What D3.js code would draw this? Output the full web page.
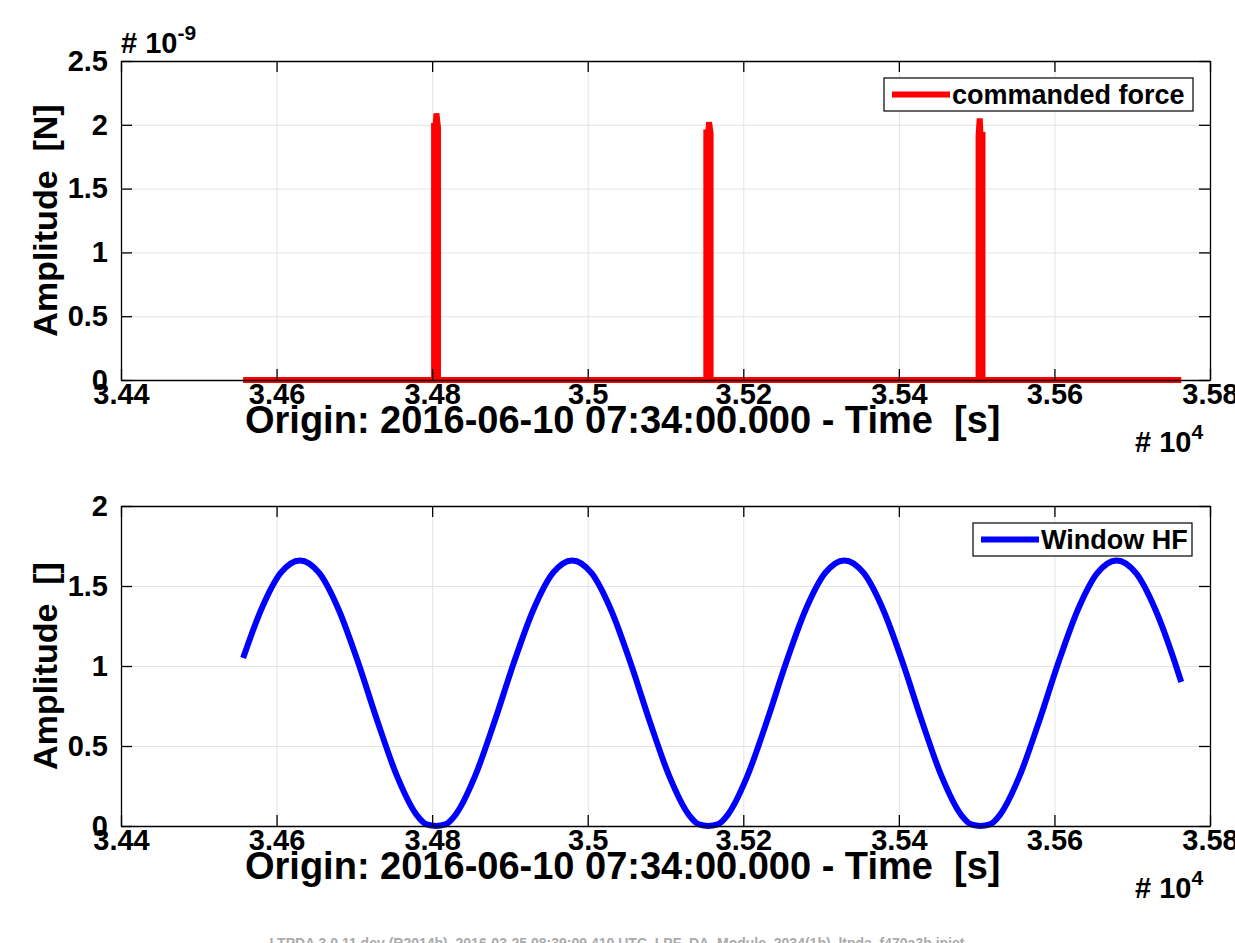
<!DOCTYPE html>
<html>
<head>
<meta charset="utf-8">
<script src="https://cdn.jsdelivr.net/npm/d3@7"></script>
<style>
  html, body { margin: 0; padding: 0; background: #fff; }
  svg { display: block; }
  text { font-family: "Liberation Sans", Arial, Helvetica, sans-serif; font-weight: bold; white-space: pre; }
</style>
</head>
<body>
<svg id="chart" width="1235" height="943"></svg>
<script>
// ---------- DATA ----------
const xTicks = [34400, 34600, 34800, 35000, 35200, 35400, 35600, 35800];
const yTicksTop = [0, 0.5, 1, 1.5, 2, 2.5];
const yTicksBottom = [0, 0.5, 1, 1.5, 2];

// commanded force (units of 1e-9 N)
const forceTime  = [34557, 34802.5, 34802.5, 34804.5, 34805.5, 34807.5, 34807.5,
                    35152.5, 35152.5, 35155, 35156, 35158, 35158,
                    35502.5, 35502.5, 35504, 35505, 35507.5, 35507.5, 35763];
const forceValue = [0, 0, 1.99, 1.99, 2.09, 1.98, 0,
                    0, 1.94, 1.94, 2.02, 1.93, 0,
                    0, 1.92, 2.05, 1.92, 1.92, 0, 0];

// Window HF
const windowTime = [34557, 34580, 34605, 34630, 34655, 34680, 34705, 34730, 34755, 34780, 34793,
                    34805, 34817, 34830, 34855, 34880, 34905, 34930, 34955, 34980, 35005, 35030,
                    35055, 35080, 35105, 35130, 35143, 35155, 35167, 35180, 35205, 35230, 35255, 35280,
                    35305, 35330, 35355, 35380, 35405, 35430, 35455, 35480, 35493, 35505, 35517, 35530,
                    35555, 35580, 35605, 35630, 35655, 35680, 35705, 35730, 35755, 35763];
const windowValue = [1.05, 1.35, 1.58, 1.66, 1.58, 1.35, 1.02, 0.65, 0.31, 0.07, 0.01,
                     0.0, 0.01, 0.07, 0.31, 0.65, 1.02, 1.35, 1.58, 1.66, 1.58, 1.35,
                     1.02, 0.65, 0.31, 0.07, 0.01, 0.0, 0.01, 0.07, 0.31, 0.65, 1.02, 1.35,
                     1.58, 1.66, 1.58, 1.35, 1.02, 0.65, 0.31, 0.07, 0.01, 0.0, 0.01, 0.07,
                     0.31, 0.65, 1.02, 1.35, 1.58, 1.66, 1.58, 1.35, 1.02, 0.90];

const xLabel = "Origin: 2016-06-10 07:34:00.000 - Time  [s]";
const footer = "LTPDA 3.0.11.dev (R2014b), 2016-03-25 08:39:09.410 UTC, LPF_DA_Module_2034(1b)_ltpda_f470a3b.ipjet";

// ---------- LAYOUT ----------
const svg = d3.select("#chart");
const L = 121, R = 1210;
const panels = [
  { top: 61, bottom: 380, ydom: [0, 2.5], yt: yTicksTop, ylabel: "Amplitude  [N]",
    time: forceTime, value: forceValue, color: "#ff0000", legend: "commanded force",
    leg: { x0: 884, x1: 1193, y0: 78, y1: 111 }, exp: true, curve: d3.curveLinear },
  { top: 506, bottom: 826, ydom: [0, 2], yt: yTicksBottom, ylabel: "Amplitude  []",
    time: windowTime, value: windowValue, color: "#0000ff", legend: "Window HF",
    leg: { x0: 973, x1: 1192, y0: 523, y1: 556 }, exp: false, curve: d3.curveMonotoneX }
];

const x = d3.scaleLinear().domain([34400, 35800]).range([L, R]);
const fmtX = d => String(+(d / 1e4).toFixed(2));
const fmtY = d => String(d);
const tickFs = 29;

panels.forEach(p => {
  const y = d3.scaleLinear().domain(p.ydom).range([p.bottom, p.top]);
  const h = p.bottom - p.top, w = R - L;
  const g = svg.append("g");

  // grid
  g.append("g").attr("transform", `translate(0,${p.bottom})`)
    .call(d3.axisBottom(x).tickValues(xTicks).tickSize(-h).tickFormat(""))
    .call(s => { s.select(".domain").remove(); s.selectAll("line").attr("stroke", "#e3e3e3").attr("stroke-width", 1); });
  g.append("g").attr("transform", `translate(${L},0)`)
    .call(d3.axisLeft(y).tickValues(p.yt).tickSize(-w).tickFormat(""))
    .call(s => { s.select(".domain").remove(); s.selectAll("line").attr("stroke", "#e3e3e3").attr("stroke-width", 1); });

  // data line
  const line = d3.line().x((d, i) => x(p.time[i])).y((d, i) => y(p.value[i])).curve(p.curve);
  g.append("path").datum(p.value).attr("d", line)
    .attr("fill", "none").attr("stroke", p.color).attr("stroke-width", 6)
    .attr("stroke-linejoin", "miter").attr("stroke-miterlimit", 2.5);

  // axes
  const styleAxis = s => {
    s.select(".domain").attr("stroke", "#000").attr("stroke-width", 1.3);
    s.selectAll(".tick line").attr("stroke", "#000").attr("stroke-width", 1.3);
    s.selectAll("text").attr("fill", "#000").attr("font-size", tickFs)
      .attr("font-family", "'Liberation Sans', Arial, sans-serif").attr("font-weight", "bold");
  };
  g.append("g").attr("transform", `translate(0,${p.bottom})`)
    .call(d3.axisBottom(x).tickValues(xTicks).tickSize(-11).tickSizeOuter(0).tickPadding(3).tickFormat(fmtX))
    .call(styleAxis);
  g.append("g").attr("transform", `translate(0,${p.top})`)
    .call(d3.axisTop(x).tickValues(xTicks).tickSize(-11).tickSizeOuter(0).tickFormat(""))
    .call(styleAxis);
  g.append("g").attr("transform", `translate(${L},0)`)
    .call(d3.axisLeft(y).tickValues(p.yt).tickSize(-11).tickSizeOuter(0).tickPadding(13).tickFormat(fmtY))
    .call(styleAxis);
  g.append("g").attr("transform", `translate(${R},0)`)
    .call(d3.axisRight(y).tickValues(p.yt).tickSize(-11).tickSizeOuter(0).tickFormat(""))
    .call(styleAxis);

  // axis labels
  g.append("text").attr("x", 245).attr("y", p.bottom + 53)
    .attr("text-anchor", "start").attr("font-size", 38).text(xLabel);
  g.append("text").attr("transform", `translate(57,${(p.top + p.bottom) / 2}) rotate(-90)`)
    .attr("text-anchor", "middle").attr("font-size", 34).text(p.ylabel);

  // x exponent
  const ex = g.append("text").attr("x", 1135).attr("y", p.bottom + 72).attr("font-size", tickFs);
  ex.append("tspan").text("# 10");
  ex.append("tspan").attr("dy", -13).attr("font-size", 21).text("4");

  // y exponent
  if (p.exp) {
    const ey = g.append("text").attr("x", 121).attr("y", 53).attr("font-size", tickFs);
    ey.append("tspan").text("# 10");
    ey.append("tspan").attr("dy", -13).attr("font-size", 21).text("-9");
  }

  // legend
  const lg = p.leg;
  g.append("rect").attr("x", lg.x0).attr("y", lg.y0).attr("width", lg.x1 - lg.x0).attr("height", lg.y1 - lg.y0)
    .attr("fill", "#fff").attr("stroke", "#000").attr("stroke-width", 1.2);
  const ly = (lg.y0 + lg.y1) / 2;
  g.append("line").attr("x1", lg.x0 + 8).attr("x2", lg.x0 + 66).attr("y1", ly).attr("y2", ly)
    .attr("stroke", p.color).attr("stroke-width", 6);
  g.append("text").attr("x", lg.x0 + 68).attr("y", ly + 9).attr("font-size", 27).text(p.legend);
});

// footer
svg.append("text").attr("x", 617).attr("y", 948).attr("text-anchor", "middle")
  .attr("font-size", 14).attr("font-weight", "normal").attr("fill", "#aaa").text(footer);
</script>
</body>
</html>
